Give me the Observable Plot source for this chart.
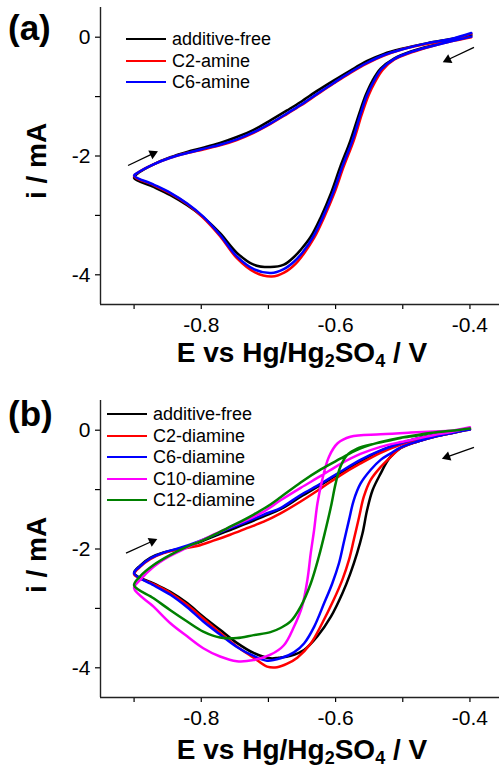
<!DOCTYPE html>
<html>
<head>
<meta charset="utf-8">
<script src="https://cdn.jsdelivr.net/npm/d3@7"></script>
<script src="https://cdn.jsdelivr.net/npm/@observablehq/plot@0.6"></script>
<style>
  body { margin:0; width:499px; height:770px; position:relative; overflow:hidden; background:#fff;
         font-family:"Liberation Sans", Arial, sans-serif; color:#000; }
  .abs { position:absolute; white-space:nowrap; }
  .bold { font-weight:bold; }
  .sub { font-size:18px; position:relative; top:5px; }
  .legend { position:absolute; font-size:18px; }
  .legend .row { position:absolute; left:0; display:flex; align-items:center; height:22px; white-space:nowrap; }
  .legend .sw { display:inline-block; width:40px; height:2px; margin-right:6px; }
</style>
</head>
<body>
<div id="pa" class="abs" style="left:0;top:0"></div>
<div id="pb" class="abs" style="left:0;top:393px"></div>
<script>
// ---------- axes ----------
const xDomain = [-0.95, -0.356];
const yDomain = [-4.5, 0.5];
const xTicks = [-0.9, -0.8, -0.7, -0.6, -0.5, -0.4];
const xTickLabels = ["", "-0.8", "", "-0.6", "", "-0.4"];
const yTicks = [-4, -3, -2, -1, 0];
const yTickLabels = ["-4", "", "-2", "", "0"];
const xTitle = ["E vs Hg/Hg", "2", "SO", "4", " / V"];
const yTitle = "i / mA";

// ---------- panel (a) ----------
const namesA = ["additive-free", "C2-amine", "C6-amine"];
const colorsA = ["#000000", "#ff0000", "#0000ff"];
const a_free = [[-0.398,0.03],[-0.428,-0.06],[-0.453,-0.13],[-0.488,-0.24],[-0.513,-0.36],[-0.533,-0.53],[-0.545,-0.73],[-0.555,-0.97],[-0.565,-1.29],[-0.578,-1.74],[-0.593,-2.18],[-0.607,-2.63],[-0.622,-3.03],[-0.637,-3.36],[-0.652,-3.58],[-0.662,-3.70],[-0.677,-3.83],[-0.697,-3.87],[-0.722,-3.83],[-0.747,-3.63],[-0.772,-3.30],[-0.797,-3.03],[-0.821,-2.83],[-0.846,-2.66],[-0.871,-2.52],[-0.900,-2.37],
  [-0.893,-2.28],[-0.871,-2.14],[-0.846,-2.02],[-0.821,-1.93],[-0.797,-1.86],[-0.772,-1.78],[-0.747,-1.68],[-0.722,-1.56],[-0.697,-1.40],[-0.672,-1.23],[-0.652,-1.09],[-0.627,-0.90],[-0.603,-0.73],[-0.578,-0.56],[-0.553,-0.40],[-0.528,-0.28],[-0.503,-0.20],[-0.463,-0.10],[-0.428,-0.03],[-0.398,0.04]];
const a_c2 = [[-0.398,0.00],[-0.428,-0.07],[-0.453,-0.14],[-0.488,-0.26],[-0.513,-0.38],[-0.530,-0.55],[-0.541,-0.75],[-0.551,-0.98],[-0.561,-1.30],[-0.573,-1.74],[-0.588,-2.18],[-0.602,-2.63],[-0.617,-3.03],[-0.632,-3.38],[-0.647,-3.64],[-0.660,-3.82],[-0.676,-3.96],[-0.695,-4.03],[-0.720,-3.96],[-0.747,-3.72],[-0.772,-3.35],[-0.797,-3.04],[-0.821,-2.81],[-0.846,-2.63],[-0.871,-2.49],[-0.900,-2.34],
  [-0.893,-2.27],[-0.871,-2.14],[-0.846,-2.03],[-0.821,-1.95],[-0.797,-1.89],[-0.772,-1.82],[-0.747,-1.73],[-0.722,-1.61],[-0.697,-1.46],[-0.672,-1.29],[-0.652,-1.15],[-0.627,-0.96],[-0.603,-0.78],[-0.578,-0.60],[-0.553,-0.44],[-0.528,-0.31],[-0.503,-0.21],[-0.463,-0.11],[-0.428,-0.04],[-0.398,0.06]];
const a_c6 = [[-0.398,0.01],[-0.428,-0.07],[-0.453,-0.14],[-0.488,-0.25],[-0.513,-0.37],[-0.532,-0.54],[-0.543,-0.74],[-0.553,-0.97],[-0.563,-1.30],[-0.575,-1.74],[-0.590,-2.18],[-0.604,-2.63],[-0.619,-3.03],[-0.634,-3.37],[-0.649,-3.62],[-0.662,-3.78],[-0.678,-3.91],[-0.696,-3.97],[-0.721,-3.91],[-0.747,-3.69],[-0.772,-3.33],[-0.797,-3.02],[-0.821,-2.80],[-0.846,-2.62],[-0.871,-2.48],[-0.900,-2.33],
  [-0.893,-2.27],[-0.871,-2.14],[-0.846,-2.03],[-0.821,-1.95],[-0.797,-1.88],[-0.772,-1.81],[-0.747,-1.72],[-0.722,-1.60],[-0.697,-1.45],[-0.672,-1.28],[-0.652,-1.14],[-0.627,-0.95],[-0.603,-0.77],[-0.578,-0.59],[-0.553,-0.43],[-0.528,-0.30],[-0.503,-0.21],[-0.463,-0.10],[-0.428,-0.03],[-0.398,0.07]];
const arrowsA = [
  {x1:-0.909, y1:-2.16, x2:-0.872, y2:-1.96, rot:65},
  {x1:-0.394, y1:-0.17, x2:-0.433, y2:-0.38, rot:244}
];

// ---------- panel (b) ----------
const namesB = ["additive-free", "C2-diamine", "C6-diamine", "C10-diamine", "C12-diamine"];
const colorsB = ["#000000", "#ff0000", "#0000ff", "#ff00ff", "#008000"];
const b_free = [[-0.400,0.02],[-0.428,-0.05],[-0.453,-0.11],[-0.478,-0.19],[-0.503,-0.30],[-0.520,-0.47],[-0.533,-0.73],[-0.545,-1.01],[-0.553,-1.34],[-0.560,-1.74],[-0.568,-2.07],[-0.578,-2.41],[-0.590,-2.75],[-0.607,-3.14],[-0.627,-3.47],[-0.647,-3.70],[-0.667,-3.80],[-0.685,-3.83],[-0.697,-3.84],[-0.722,-3.75],[-0.747,-3.58],[-0.772,-3.36],[-0.797,-3.14],[-0.821,-2.91],[-0.846,-2.72],[-0.871,-2.58],[-0.900,-2.41],
  [-0.891,-2.28],[-0.876,-2.15],[-0.856,-2.06],[-0.831,-1.99],[-0.806,-1.90],[-0.782,-1.79],[-0.757,-1.68],[-0.732,-1.57],[-0.707,-1.45],[-0.682,-1.33],[-0.652,-1.12],[-0.622,-0.92],[-0.593,-0.72],[-0.563,-0.52],[-0.533,-0.35],[-0.503,-0.22],[-0.478,-0.14],[-0.453,-0.08],[-0.428,-0.03],[-0.400,0.02]];
const b_c2 = [[-0.400,0.01],[-0.428,-0.05],[-0.453,-0.11],[-0.478,-0.19],[-0.503,-0.30],[-0.518,-0.45],[-0.533,-0.62],[-0.548,-0.84],[-0.558,-1.12],[-0.565,-1.46],[-0.573,-1.85],[-0.580,-2.18],[-0.590,-2.52],[-0.603,-2.86],[-0.620,-3.25],[-0.637,-3.59],[-0.657,-3.83],[-0.672,-3.93],[-0.687,-3.99],[-0.702,-3.98],[-0.722,-3.83],[-0.747,-3.64],[-0.772,-3.41],[-0.797,-3.17],[-0.821,-2.94],[-0.846,-2.74],[-0.871,-2.59],[-0.900,-2.43],
  [-0.891,-2.30],[-0.876,-2.17],[-0.856,-2.07],[-0.831,-2.00],[-0.806,-1.95],[-0.782,-1.86],[-0.757,-1.76],[-0.732,-1.65],[-0.707,-1.54],[-0.682,-1.40],[-0.652,-1.20],[-0.622,-0.98],[-0.593,-0.76],[-0.563,-0.56],[-0.533,-0.38],[-0.503,-0.24],[-0.478,-0.15],[-0.453,-0.08],[-0.428,-0.03],[-0.400,0.01]];
const b_c6 = [[-0.400,0.01],[-0.428,-0.05],[-0.453,-0.11],[-0.478,-0.19],[-0.503,-0.29],[-0.518,-0.39],[-0.533,-0.50],[-0.548,-0.67],[-0.563,-0.90],[-0.573,-1.18],[-0.580,-1.51],[-0.588,-1.90],[-0.595,-2.24],[-0.605,-2.58],[-0.617,-2.91],[-0.632,-3.31],[-0.647,-3.59],[-0.662,-3.74],[-0.682,-3.84],[-0.702,-3.88],[-0.722,-3.80],[-0.747,-3.65],[-0.772,-3.44],[-0.797,-3.22],[-0.821,-2.98],[-0.846,-2.77],[-0.871,-2.61],[-0.900,-2.41],
  [-0.891,-2.29],[-0.876,-2.16],[-0.856,-2.06],[-0.831,-1.98],[-0.806,-1.88],[-0.782,-1.77],[-0.757,-1.65],[-0.732,-1.54],[-0.707,-1.42],[-0.682,-1.31],[-0.652,-1.09],[-0.622,-0.90],[-0.593,-0.70],[-0.563,-0.50],[-0.533,-0.34],[-0.503,-0.22],[-0.478,-0.14],[-0.453,-0.08],[-0.428,-0.03],[-0.400,0.01]];
const b_c10 = [[-0.400,0.05],[-0.428,-0.01],[-0.453,-0.02],[-0.488,-0.04],[-0.533,-0.07],[-0.578,-0.11],[-0.597,-0.22],[-0.610,-0.45],[-0.620,-0.84],[-0.627,-1.23],[-0.632,-1.68],[-0.637,-2.07],[-0.642,-2.52],[-0.650,-2.97],[-0.662,-3.31],[-0.677,-3.62],[-0.697,-3.78],[-0.722,-3.87],[-0.747,-3.89],[-0.772,-3.81],[-0.797,-3.67],[-0.821,-3.47],[-0.846,-3.25],[-0.871,-2.97],[-0.900,-2.66],
  [-0.891,-2.52],[-0.871,-2.30],[-0.856,-2.18],[-0.831,-2.03],[-0.806,-1.89],[-0.782,-1.76],[-0.757,-1.63],[-0.732,-1.51],[-0.707,-1.37],[-0.682,-1.18],[-0.652,-0.97],[-0.622,-0.77],[-0.593,-0.57],[-0.563,-0.40],[-0.533,-0.28],[-0.503,-0.20],[-0.478,-0.14],[-0.453,-0.08],[-0.428,-0.03],[-0.400,0.04]];
const b_c12 = [[-0.400,0.03],[-0.428,-0.01],[-0.453,-0.04],[-0.478,-0.09],[-0.503,-0.13],[-0.518,-0.17],[-0.543,-0.23],[-0.568,-0.31],[-0.583,-0.42],[-0.593,-0.62],[-0.600,-0.90],[-0.607,-1.29],[-0.615,-1.68],[-0.625,-2.13],[-0.637,-2.58],[-0.652,-2.97],[-0.667,-3.22],[-0.682,-3.33],[-0.697,-3.40],[-0.722,-3.45],[-0.747,-3.50],[-0.772,-3.49],[-0.797,-3.39],[-0.821,-3.22],[-0.846,-3.03],[-0.871,-2.83],[-0.900,-2.61],
  [-0.891,-2.46],[-0.871,-2.27],[-0.846,-2.10],[-0.821,-1.96],[-0.797,-1.85],[-0.772,-1.71],[-0.747,-1.57],[-0.722,-1.42],[-0.697,-1.25],[-0.682,-1.13],[-0.652,-0.88],[-0.622,-0.66],[-0.593,-0.48],[-0.568,-0.33],[-0.543,-0.23],[-0.518,-0.16],[-0.478,-0.08],[-0.453,-0.04],[-0.428,-0.01],[-0.400,0.03]];
const arrowsB = [
  {x1:-0.912, y1:-2.07, x2:-0.873, y2:-1.87, rot:65},
  {x1:-0.394, y1:-0.29, x2:-0.434, y2:-0.45, rot:250}
];

const FONT = '"Liberation Sans", Arial, sans-serif';

function toRows(names, series) {
  return names.flatMap((s, k) => series[k].map(([E, i]) => ({s, E, i})));
}

function panel(names, colors, series, arrows, height, marginBottom) {
  const rows = toRows(names, series);
  return Plot.plot({
    width: 499, height, marginTop: 7, marginBottom, marginLeft: 100, marginRight: 0,
    style: {fontFamily: FONT, fontSize: "21px", color: "#000", background: "transparent", overflow: "visible"},
    x: {domain: xDomain},
    y: {domain: yDomain},
    color: {domain: names, range: colors},
    marks: [
      Plot.axisX({ticks: xTicks, tickSize: 5, tickPadding: 8, fontSize: 21, label: null,
                  tickFormat: d => xTickLabels[xTicks.indexOf(d)], strokeWidth: 1.2}),
      Plot.axisY({ticks: yTicks, tickSize: 5, tickPadding: 5, fontSize: 21, label: null,
                  tickFormat: d => yTickLabels[yTicks.indexOf(d)], strokeWidth: 1.2}),
      Plot.ruleX([xDomain[0]], {stroke: "#222", strokeWidth: 1.4}),
      Plot.ruleY([yDomain[0]], {stroke: "#222", strokeWidth: 1.4}),
      Plot.line(rows, {x: "E", y: "i", z: "s", stroke: "s", strokeWidth: 2.5, curve: "catmull-rom"}),
      Plot.link(arrows, {x1: "x1", y1: "y1", x2: "x2", y2: "y2", stroke: "#000", strokeWidth: 1.3}),
      Plot.dot(arrows, {x: "x2", y: "y2", symbol: "triangle", r: 3.6, fill: "#000", stroke: "none", rotate: "rot"})
    ]
  });
}

document.getElementById("pa").append(panel(namesA, colorsA, [a_free, a_c2, a_c6], arrowsA, 385, 81));
document.getElementById("pb").append(panel(namesB, colorsB, [b_free, b_c2, b_c6, b_c10, b_c12], arrowsB, 377, 73));

// ---------- text: panel letters, axis titles, legends ----------
function addDiv(html, style, cls) {
  const d = document.createElement("div");
  d.className = "abs " + (cls || "");
  d.innerHTML = html;
  Object.assign(d.style, style);
  document.body.append(d);
  return d;
}
const xt = `${xTitle[0]}<span class="sub">${xTitle[1]}</span>${xTitle[2]}<span class="sub">${xTitle[3]}</span>${xTitle[4]}`;
addDiv("(a)", {left: "8px", top: "10px", fontSize: "35px", lineHeight: "35px"}, "bold");
addDiv("(b)", {left: "8px", top: "396px", fontSize: "35px", lineHeight: "35px"}, "bold");
addDiv(xt, {left: "302px", top: "339px", fontSize: "28px", lineHeight: "28px", transform: "translateX(-50%)"}, "bold");
addDiv(xt, {left: "302px", top: "736px", fontSize: "28px", lineHeight: "28px", transform: "translateX(-50%)"}, "bold");
addDiv(yTitle, {left: "37px", top: "161px", fontSize: "28px", lineHeight: "28px", transform: "translate(-50%,-50%) rotate(-90deg)"}, "bold");
addDiv(yTitle, {left: "37px", top: "555px", fontSize: "28px", lineHeight: "28px", transform: "translate(-50%,-50%) rotate(-90deg)"}, "bold");

function legend(names, colors, left, firstCenter, step) {
  const d = document.createElement("div");
  d.className = "legend";
  d.style.left = left + "px";
  d.style.top = "0px";
  names.forEach((n, k) => {
    const r = document.createElement("div");
    r.className = "row";
    r.style.top = Math.round(firstCenter + k * step - 11) + "px";
    r.innerHTML = `<span class="sw" style="background:${colors[k]}"></span><span>${n}</span>`;
    d.append(r);
  });
  document.body.append(d);
}
legend(namesA, colorsA, 126, 39, 21.5);
legend(namesB, colorsB, 107, 414, 21.5);
</script>
</body>
</html>
